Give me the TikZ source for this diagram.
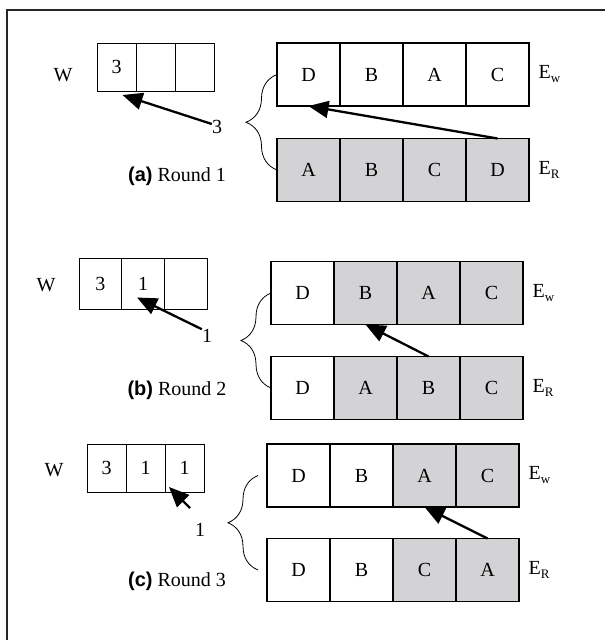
\documentclass[tikz,border=0pt]{standalone}
\usepackage{fontspec}
\setmainfont{Liberation Serif}
\setsansfont{Liberation Sans}
\usepackage{tikz}
\usetikzlibrary{arrows.meta,positioning,decorations.pathreplacing}
\definecolor{cellgray}{RGB}{211,211,213}
\newcommand{\lowsub}[1]{\raisebox{-4pt}{\fontsize{13}{13}\selectfont #1}}
\newcommand{\roundtag}[2]{{\sffamily\bfseries (#1)} Round #2}

\begin{document}
\begin{tikzpicture}[x=1pt, y=-1pt,
            every node/.style={font=\fontsize{20}{22}\selectfont},
            cell/.style={draw, line width=1.1pt, minimum size=63pt, inner sep=0pt, outer sep=0pt},
            gcell/.style={cell, fill=cellgray},
            wcell/.style={draw, line width=0.8pt, inner sep=0pt, outer sep=0pt},
            arr/.style={-{Triangle[length=20pt,width=17pt]}, line width=2.3pt},
            brc/.style={decorate, decoration={brace, amplitude=#1}, line width=0.8pt}]
            \useasboundingbox (0,0) rectangle (605,640);
            \clip (0,0) rectangle (605,640);
            \draw[line width=1.3pt, black!85] (7,10) rectangle (640,680);

            % round 1
            \foreach \t [count=\i] in {3,{},{}}
                \node[wcell, minimum width=39pt, minimum height=48pt] (w1\i) at ({97+19.5+39*(\i-1)},67) {\t};
            \foreach \t/\s [count=\i] in {D/cell,B/cell,A/cell,C/cell}
                \node[\s] (e1\i) at ({277+31.5+63*(\i-1)},74.5) {\t};
            \foreach \t/\s [count=\i] in {A/gcell,B/gcell,C/gcell,D/gcell}
                \node[\s] (r1\i) at ({277+31.5+63*(\i-1)},170) {\t};
            \node (wl1) at (63,75) {W};
            \node[inner sep=0pt] (k1) at (217,127) {3};
            \node (cap1) at (177,176) {\roundtag{a}{1}};
            \node[right=6pt of e14] (ew1) {E\lowsub{w}};
            \node[right=6pt of r14] (er1) {E\lowsub{R}};
            \draw[brc=31pt] (r11.west) -- (e11.west);
            \draw[arr] ([yshift=3pt]k1.west) -- ([shift={(6pt,-4pt)}]w11.south);
            \draw[arr] (r14.north) -- (e11.south);

            % round 2
            \foreach \t [count=\i] in {3,1,{}}
                \node[wcell, minimum width=42.7pt, minimum height=51pt] (w2\i) at ({79+21.3+42.7*(\i-1)},283.5) {\raisebox{-6pt}{\t}};
            \foreach \t/\s [count=\i] in {D/cell,B/gcell,A/gcell,C/gcell}
                \node[\s] (e2\i) at ({271+31.5+63*(\i-1)},293) {\t};
            \foreach \t/\s [count=\i] in {D/cell,A/gcell,B/gcell,C/gcell}
                \node[\s] (r2\i) at ({271+31.5+63*(\i-1)},388) {\t};
            \node (wl2) at (46,285) {W};
            \node[inner sep=0pt] (k2) at (207,336) {1};
            \node (cap2) at (177,390) {\roundtag{b}{2}};
            \node[right=6pt of e24] (ew2) {E\lowsub{w}};
            \node[right=6pt of r24] (er2) {E\lowsub{R}};
            \draw[brc=30pt] (r21.west) -- (e21.west);
            \draw[arr] (k2.north west) -- ([shift={(-6pt,-14pt)}]w22.center);
            \draw[arr] (r23.north) -- (e22.south);

            % round 3
            \foreach \t [count=\i] in {3,1,1}
                \node[wcell, minimum width=39pt, minimum height=48pt] (w3\i) at ({87+19.5+39*(\i-1)},468) {\t};
            \foreach \t/\s [count=\i] in {D/cell,B/cell,A/gcell,C/gcell}
                \node[\s] (e3\i) at ({267+31.5+63*(\i-1)},475.5) {\t};
            \foreach \t/\s [count=\i] in {D/cell,B/cell,C/gcell,A/gcell}
                \node[\s] (r3\i) at ({267+31.5+63*(\i-1)},570) {\t};
            \node (wl3) at (54,470) {W};
            \node[inner sep=0pt] (k3) at (200,530) {1};
            \coordinate (t3) at (190,508);
            \node (cap3) at (177,581) {\roundtag{c}{3}};
            \node[right=6pt of e34] (ew3) {E\lowsub{w}};
            \node[right=6pt of r34] (er3) {E\lowsub{R}};
            \draw[brc=30pt] ([xshift=-9pt]r31.west) -- ([xshift=-9pt]e31.west);
            \draw[arr] (t3) -- ([shift={(4pt,5pt)}]w33.south west);
            \draw[arr] (r34.north) -- (e33.south);
\end{tikzpicture}
\end{document}
